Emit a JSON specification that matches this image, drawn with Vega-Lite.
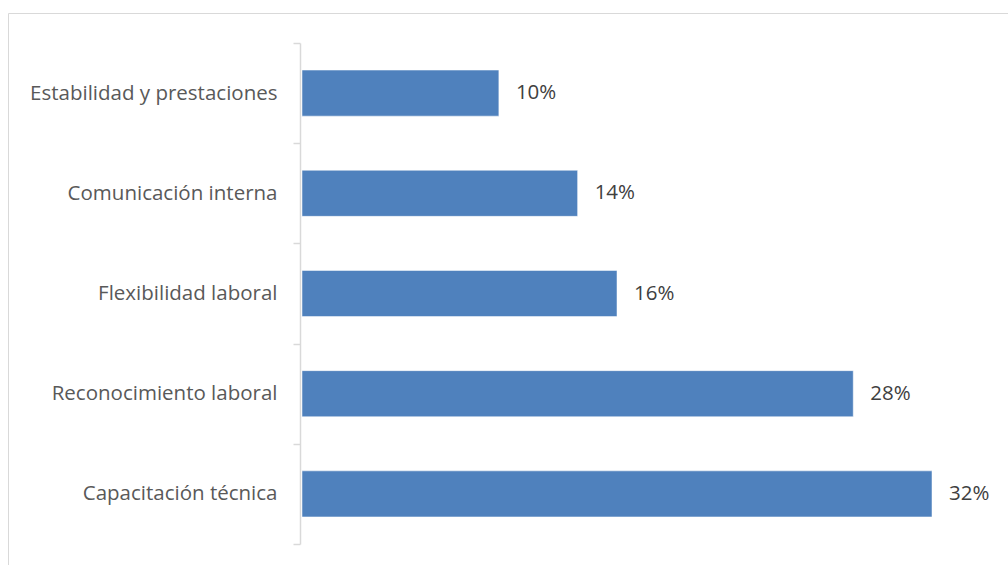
{
  "$schema": "https://vega.github.io/schema/vega-lite/v6.json",
  "autosize": "none",
  "padding": {"left": 8, "top": 13, "right": 0, "bottom": 0},
  "width": 1010,
  "height": 560,
  "background": "white",
  "config": {
    "view": {"stroke": "#d9d9d9", "strokeWidth": 1},
    "font": "Open Sans"
  },
  "data": {
    "values": [
      {"categoria": "Estabilidad y prestaciones", "valor": 0.10},
      {"categoria": "Comunicación interna", "valor": 0.14},
      {"categoria": "Flexibilidad laboral", "valor": 0.16},
      {"categoria": "Reconocimiento laboral", "valor": 0.28},
      {"categoria": "Capacitación técnica", "valor": 0.32}
    ]
  },
  "encoding": {
    "y": {
      "field": "categoria",
      "type": "nominal",
      "sort": null,
      "scale": {"range": [30, 531], "paddingInner": 0, "paddingOuter": 0},
      "axis": {
        "title": null,
        "offset": -292,
        "domainColor": "#d9d9d9",
        "domainWidth": 1.5,
        "tickColor": "#d9d9d9",
        "tickWidth": 1.5,
        "tickSize": 7,
        "tickBand": "extent",
        "labelFontSize": 20.5,
        "labelColor": "#595959",
        "labelPadding": 16,
        "labelFont": "Open Sans",
        "labelLimit": 400
      }
    },
    "x": {
      "field": "valor",
      "type": "quantitative",
      "scale": {"domain": [0, 0.32], "range": [294, 924], "zero": true},
      "axis": null
    }
  },
  "layer": [
    {"mark": {"type": "bar", "color": "#4f81bd", "stroke": "white", "strokeWidth": 0.5, "height": {"band": 0.46}}},
    {
      "mark": {"type": "text", "align": "left", "baseline": "middle", "dx": 17, "fontSize": 20.5, "color": "#404040", "font": "Open Sans"},
      "encoding": {"text": {"field": "valor", "type": "quantitative", "format": ".0%"}}
    }
  ]
}
